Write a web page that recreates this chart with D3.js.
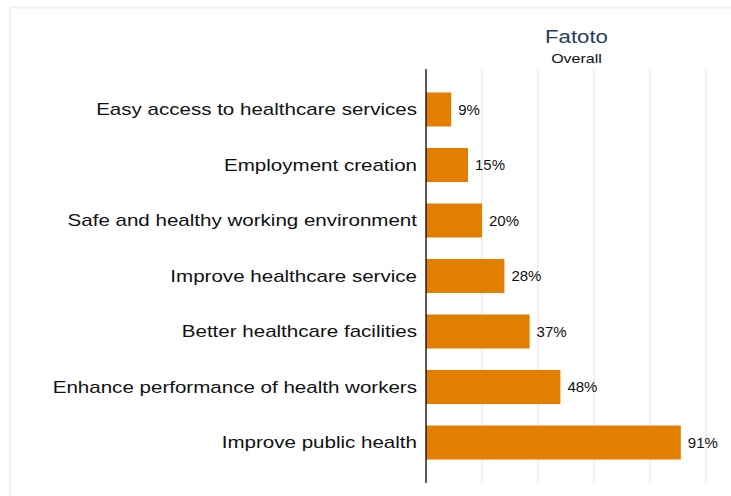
<!DOCTYPE html>
<html>
<head>
<meta charset="utf-8">
<script src="https://cdn.jsdelivr.net/npm/d3@7"></script>
<style>
  html, body { margin: 0; padding: 0; background: #ffffff; }
  svg { display: block; font-family: "Liberation Sans", Arial, sans-serif; }
</style>
</head>
<body>
<svg id="chart" width="731" height="496"></svg>
<script>
// Reasons given, share of respondents (%)
const categories = [
  "Easy access to healthcare services",
  "Employment creation",
  "Safe and healthy working environment",
  "Improve healthcare service",
  "Better healthcare facilities",
  "Enhance performance of health workers",
  "Improve public health"
];
const values = [9, 15, 20, 28, 37, 48, 91];
const gridTicks = [20, 40, 60, 80, 100];
const title = "Fatoto";
const subtitle = "Overall";

const svg = d3.select("#chart");
const W = 731, H = 496;

// faint panel frame (top and left edges)
svg.append("line").attr("x1", 10).attr("x2", W).attr("y1", 7.5).attr("y2", 7.5)
  .attr("stroke", "#edf2f2").attr("stroke-width", 2);
svg.append("line").attr("x1", 10).attr("x2", 10).attr("y1", 7.5).attr("y2", H)
  .attr("stroke", "#edf2f2").attr("stroke-width", 2);

const plot = { left: 426, right: 727, top: 69, bottom: 483 };

const x = d3.scaleLinear().domain([0, 107.5]).range([plot.left, plot.right]);
const y = d3.scaleBand().domain(categories).range([plot.top, plot.bottom])
  .paddingInner(0.387).paddingOuter(0.423);

// vertical gridlines
svg.append("g").selectAll("line").data(gridTicks).join("line")
  .attr("x1", d => x(d)).attr("x2", d => x(d))
  .attr("y1", plot.top).attr("y2", plot.bottom)
  .attr("stroke", "#e8eef1").attr("stroke-width", 1.5);

// bars
svg.append("g").selectAll("rect").data(values).join("rect")
  .attr("x", x(0))
  .attr("y", (d, i) => y(categories[i]))
  .attr("width", d => x(d) - x(0))
  .attr("height", y.bandwidth())
  .attr("fill", "#e37f00");

// value labels
svg.append("g").selectAll("text").data(values).join("text")
  .attr("x", d => x(d) + 7)
  .attr("y", (d, i) => y(categories[i]) + y.bandwidth() / 2)
  .attr("dy", "0.36em")
  .attr("font-size", 15)
  .attr("fill", "#111")
  .text(d => d + "%");

// category labels (wide-set type)
svg.append("g").selectAll("text").data(categories).join("text")
  .attr("transform", d => `translate(${plot.left - 9},${y(d) + y.bandwidth() / 2}) scale(1.285,1)`)
  .attr("text-anchor", "end")
  .attr("dy", "0.36em")
  .attr("font-size", 16)
  .attr("fill", "#111")
  .text(d => d);

// category axis line
svg.append("line")
  .attr("x1", plot.left).attr("x2", plot.left)
  .attr("y1", plot.top).attr("y2", plot.bottom)
  .attr("stroke", "#000").attr("stroke-width", 1.3);

// titles
const cx = (plot.left + plot.right) / 2;
svg.append("text")
  .attr("transform", `translate(${cx},43) scale(1.2,1)`)
  .attr("text-anchor", "middle").attr("font-size", 18.5)
  .attr("fill", "#2a3a5e").text(title);
svg.append("text")
  .attr("transform", `translate(${cx},63) scale(1.23,1)`)
  .attr("text-anchor", "middle").attr("font-size", 13)
  .attr("fill", "#111").text(subtitle);
</script>
</body>
</html>
